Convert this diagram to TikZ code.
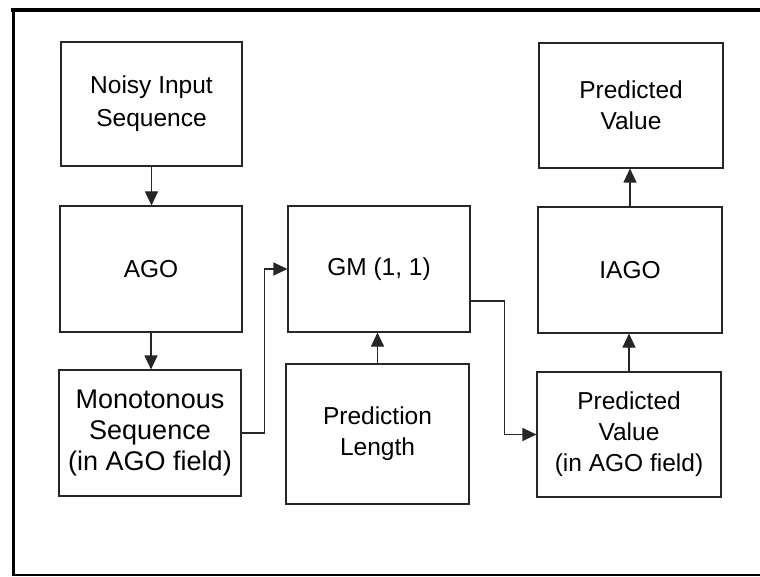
\documentclass[tikz,border=0pt]{standalone}
\usepackage{fontspec}
\setmainfont{Liberation Sans}
\usetikzlibrary{arrows.meta}
\begin{document}
\begin{tikzpicture}[x=1pt,y=-1pt,
  box/.style={draw=black!85, line width=1.1pt, inner sep=0pt, align=center,
    font=\fontsize{24.5}{31}\selectfont},
  bigtext/.style={font=\fontsize{27}{31}\selectfont},
  arr/.style={draw=black!85, line width=1.1pt, -{Triangle[length=14pt,width=13pt]}},
  frame/.style={draw=black, line cap=rect}]
\useasboundingbox (0,0) rectangle (760,577);
\draw[frame, line width=4pt] (13,10.5) -- (760,10.5);
\draw[frame, line width=3pt] (13.5,10.5) -- (13.5,574.5);
\draw[frame, line width=2pt] (13.5,575) -- (760,575);
\node[box, minimum width=181pt, minimum height=124pt, font=\fontsize{24.5}{33}\selectfont] (noisy) at (151.5,104) {Noisy Input\\Sequence};
\node[box, minimum width=182pt, minimum height=126pt] (ago) at (151,269) {AGO};
\node[box, bigtext, minimum width=182pt, minimum height=126pt] (mono) at (150,433) {Monotonous\\Sequence\\(in AGO field)};
\node[box, minimum width=182pt, minimum height=126pt] (gm) at (379,269) {GM (1, 1)};
\node[box, minimum width=183pt, minimum height=140pt] (pl) at (377.5,434) {Prediction\\Length};
\node[box, minimum width=184pt, minimum height=125pt] (pvtop) at (631,105.5) {Predicted\\Value};
\node[box, minimum width=184pt, minimum height=126pt] (iago) at (630,270) {IAGO};
\node[box, minimum width=184pt, minimum height=125pt] (pvago) at (629,434.5) {Predicted\\Value\\(in AGO field)};
\draw[arr] (noisy.south) -- (noisy.south |- ago.north);
\draw[arr] (ago.south) -- (ago.south |- mono.north);
\draw[arr] (mono.east) -- ++(23,0) |- (gm.west);
\draw[arr] (pl.north) -- (pl.north |- gm.south);
\draw[arr] ([yshift=-32pt]gm.east) -- ++(34,0) |- (pvago.west);
\draw[arr] (pvago.north) -- (pvago.north |- iago.south);
\draw[arr] (iago.north) -- (iago.north |- pvtop.south);
\end{tikzpicture}
\end{document}
